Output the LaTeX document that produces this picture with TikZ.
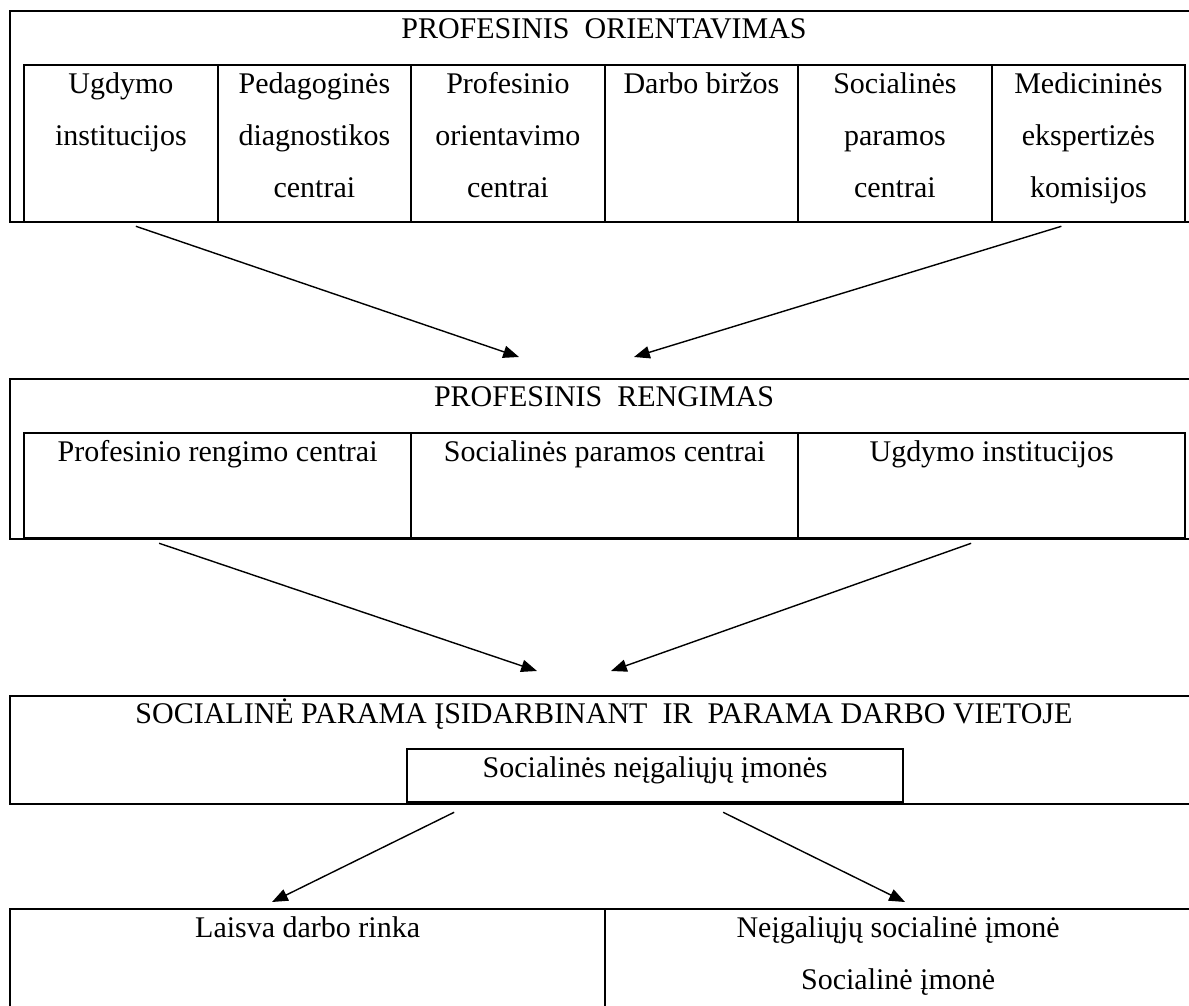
\documentclass[tikz,border=0pt]{standalone}
\usepackage{fontspec}
\setmainfont{Liberation Serif}
\usetikzlibrary{arrows.meta,calc}
\newlength\pxl
\setlength\pxl{0.02cm}
% one text line: 28 above the baseline, 24 below
\newcommand\ls{\rule[-24\pxl]{0pt}{52\pxl}}

\begin{document}
\begin{tikzpicture}[x=1\pxl,y=-1\pxl,>={Triangle[length=9pt,width=7pt]},
  box/.style={draw,line width=1.3pt,inner sep=0pt,anchor=north west,align=center,
    font=\fontsize{17.07}{29.6}\selectfont},
  ttl/.style={inner sep=0pt,anchor=north,align=center,font=\fontsize{17.07}{29.6}\selectfont},
  arr/.style={->,line width=0.8pt}]
\useasboundingbox (0,0) rectangle (1189,1006);
\clip (0,0) rectangle (1189,1006);

% profesinis orientavimas
\node[box,minimum width=1191\pxl,minimum height=211\pxl] (orient) at (9,10) {};
\node[ttl] (tor) at (604,10) {\ls PROFESINIS\ \ ORIENTAVIMAS};
\node[box,minimum width=193.5\pxl,minimum height=157\pxl] (ugd) at (23,64) {\ls Ugdymo\\\ls institucijos\\\ls};
\node[box,minimum width=193.5\pxl,minimum height=157\pxl] (ped) at (216.5,64) {\ls Pedagoginės\\\ls diagnostikos\\\ls centrai};
\node[box,minimum width=193.5\pxl,minimum height=157\pxl] (prof) at (410,64) {\ls Profesinio\\\ls orientavimo\\\ls centrai};
\node[box,minimum width=193.5\pxl,minimum height=157\pxl] (darb) at (603.5,64) {\ls Darbo biržos\\\ls\\\ls};
\node[box,minimum width=193.5\pxl,minimum height=157\pxl] (soc) at (797,64) {\ls Socialinės\\\ls paramos\\\ls centrai};
\node[box,minimum width=193.5\pxl,minimum height=157\pxl] (med) at (990.5,64) {\ls Medicininės\\\ls ekspertizės\\\ls komisijos};

% profesinis rengimas
\node[box,minimum width=1191\pxl,minimum height=160\pxl] (rengim) at (9,378) {};
\node[ttl] (tre) at (604,378) {\ls PROFESINIS\ \ RENGIMAS};
\node[box,minimum width=387\pxl,minimum height=105\pxl] (prc) at (23,432) {\ls Profesinio rengimo centrai\\\ls};
\node[box,minimum width=387\pxl,minimum height=105\pxl] (spc) at (410,432) {\ls Socialinės paramos centrai\\\ls};
\node[box,minimum width=387\pxl,minimum height=105\pxl] (ugi) at (797,432) {\ls Ugdymo institucijos\\\ls};

% parama
\node[box,minimum width=1191\pxl,minimum height=108\pxl] (parama) at (9,695) {};
\node[ttl] (tpa) at (604,695) {\ls SOCIALINĖ PARAMA ĮSIDARBINANT\ \ IR\ \ PARAMA DARBO VIETOJE};
\node[box,minimum width=496\pxl,minimum height=53\pxl] (sni) at (406,748) {\ls Socialinės neįgaliųjų įmonės};

% darbo vietos
\node[box,minimum width=595\pxl,minimum height=104\pxl] (ldr) at (9,908) {\ls Laisva darbo rinka\\\ls};
\node[box,minimum width=586\pxl,minimum height=104\pxl] (nsi) at (604,908) {\ls Neįgaliųjų socialinė įmonė\\\ls Socialinė įmonė};

% arrows
\coordinate (r1) at (519,357);
\coordinate (r2) at (634,357);
\coordinate (p1) at (537,671);
\coordinate (p2) at (611,671);
\coordinate (d1) at (272,902);
\coordinate (d2) at (905,902);
\draw[arr] ($(ugd.south)+(15,3)$) -- (r1);
\draw[arr] ($(med.south)+(-27,3)$) -- (r2);
\draw[arr] ($(prc.south)+(-58.5,4)$) -- (p1);
\draw[arr] ($(ugi.south)+(-20.5,4)$) -- (p2);
\draw[arr] ($(sni.south)+(-201,9)$) -- (d1);
\draw[arr] ($(sni.south)+(68,9)$) -- (d2);
\end{tikzpicture}
\end{document}
